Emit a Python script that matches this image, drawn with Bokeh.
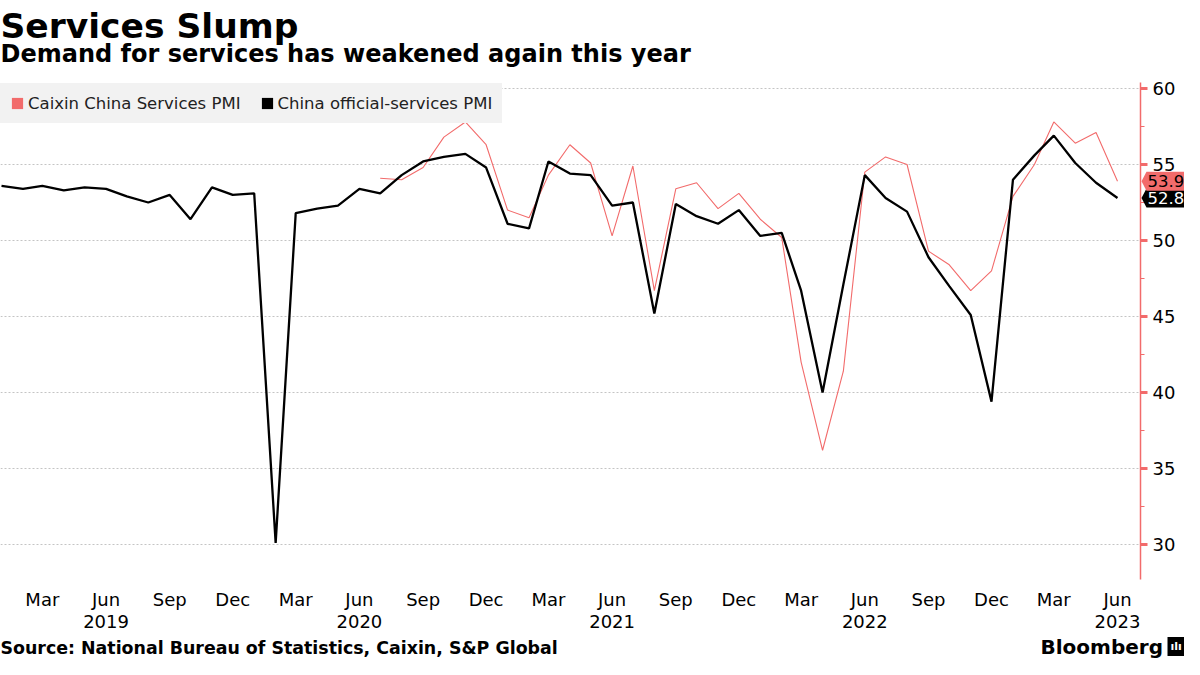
import pandas as pd
from bokeh.plotting import figure
from bokeh.models import (Range1d, DatetimeAxis, FixedTicker, SingleIntervalTicker,
                          DatetimeTickFormatter, Legend, LegendItem, Label,
                          PolyAnnotation, BoxAnnotation)
from bokeh.embed import file_html
from bokeh.resources import INLINE

# ---------------- data ----------------
official_start = "2019-01-01"
official_pmi = [
    53.6, 53.4, 53.6, 53.3, 53.5, 53.4, 52.9, 52.5, 53.0, 51.4, 53.5, 53.0,   # 2019
    53.1, 30.1, 51.8, 52.1, 52.3, 53.4, 53.1, 54.3, 55.2, 55.5, 55.7, 54.8,   # 2020
    51.1, 50.8, 55.2, 54.4, 54.3, 52.3, 52.5, 45.2, 52.4, 51.6, 51.1, 52.0,   # 2021
    50.3, 50.5, 46.7, 40.0, 47.1, 54.3, 52.8, 51.9, 48.9, 47.0, 45.1, 39.4,   # 2022
    54.0, 55.6, 56.9, 55.1, 53.8, 52.8,                                       # 2023
]
caixin_start = "2020-07-01"
caixin_pmi = [
    54.1, 54.0, 54.8, 56.8, 57.8, 56.3,                                       # 2020 H2
    52.0, 51.5, 54.3, 56.3, 55.1, 50.3, 54.9, 46.7, 53.4, 53.8, 52.1, 53.1,   # 2021
    51.4, 50.2, 42.0, 36.2, 41.4, 54.5, 55.5, 55.0, 49.3, 48.4, 46.7, 48.0,   # 2022
    52.9, 55.0, 57.8, 56.4, 57.1, 53.9,                                       # 2023
]
quarter_ticks = ["2019-03-01", "2019-06-01", "2019-09-01", "2019-12-01",
                 "2020-03-01", "2020-06-01", "2020-09-01", "2020-12-01",
                 "2021-03-01", "2021-06-01", "2021-09-01", "2021-12-01",
                 "2022-03-01", "2022-06-01", "2022-09-01", "2022-12-01",
                 "2023-03-01", "2023-06-01"]
year_ticks = ["2019-06-01", "2020-06-01", "2021-06-01", "2022-06-01", "2023-06-01"]

caixin_name = "Caixin China Services PMI"
official_name = "China official-services PMI"
title_text = "Services Slump"
subtitle_text = "Demand for services has weakened again this year"
source_text = "Source: National Bureau of Statistics, Caixin, S&P Global"
brand_text = "Bloomberg"

# ---------------- layout constants (canvas pixels) ----------------
RED = "#f26b6b"
FONT = "DejaVu Sans"
W, H = 1184, 659
AXIS_PX = 1140            # x of the value axis
TAG_W = W - AXIS_PX       # room right of the axis
PX_PER_UNIT = 15.2
Y60_PX = 88               # canvas y of the 60 gridline
PLOT_TOP_PX, PLOT_BOTTOM_PX = 82, 579
LABEL_SHIFT = 8           # baseline correction for screen-unit labels


def to_ms(d):
    return pd.Timestamp(d).value / 1e6


official_dates = pd.date_range(official_start, periods=len(official_pmi), freq="MS")
caixin_dates = pd.date_range(caixin_start, periods=len(caixin_pmi), freq="MS")

first_ms = to_ms(official_dates[0])
last_ms = to_ms(official_dates[-1])
ms_per_px = (last_ms - first_ms) / (AXIS_PX - 1 - 23)
x_start = first_ms - 1 * ms_per_px
axis_ms = last_ms + 23 * ms_per_px
x_end = axis_ms + TAG_W * ms_per_px


def px_to_val(py):
    return 60 - (py - Y60_PX) / PX_PER_UNIT


y_top, y_bot = px_to_val(0), px_to_val(H)
y_lo, y_hi = px_to_val(PLOT_BOTTOM_PX), px_to_val(PLOT_TOP_PX)
units_per_px = 1 / PX_PER_UNIT

p = figure(width=W, height=H, x_axis_type="datetime", y_axis_location="right",
           x_range=Range1d(x_start, x_end), y_range=Range1d(y_bot, y_top),
           output_backend="svg", toolbar_location=None, title=None,
           min_border_left=0, min_border_right=0,
           min_border_top=0, min_border_bottom=0)
p.outline_line_color = None
p.background_fill_color = "white"
p.border_fill_color = "white"

# hide grid right of the axis
p.add_layout(BoxAnnotation(left=axis_ms, fill_color="white", fill_alpha=1.0,
                           line_color=None, level="underlay"))

# lines
p.line(caixin_dates, caixin_pmi, line_color=RED, line_width=1.1)
p.line(official_dates, official_pmi, line_color="black", line_width=2.3)

# legend proxies (no visible marks in the plot)
nan = float("nan")
r_c = p.quad(left=[nan], right=[nan], top=[nan], bottom=[nan], fill_color=RED, line_color=None)
r_o = p.quad(left=[nan], right=[nan], top=[nan], bottom=[nan], fill_color="black", line_color=None)
legend = Legend(items=[LegendItem(label=caixin_name, renderers=[r_c]),
                       LegendItem(label=official_name, renderers=[r_o])],
                location=(0, H - 123), orientation="horizontal",
                background_fill_color="#f2f2f2", background_fill_alpha=1.0,
                border_line_color="#f2f2f2", border_line_width=1, margin=0, padding=9,
                glyph_width=14, glyph_height=14, label_height=20, label_standoff=4, spacing=19,
                label_text_font=FONT, label_text_font_size="16.5px",
                label_text_color="#222222")
p.add_layout(legend)

# value axis (right side, pinned at the axis position)
yt = SingleIntervalTicker(interval=5, num_minor_ticks=2)
ya = p.yaxis[0]
ya.fixed_location = axis_ms
ya.bounds = (y_lo, y_hi)
ya.ticker = yt
ya.axis_line_color = RED
ya.axis_line_width = 1.5
ya.major_tick_line_color = RED
ya.major_tick_line_width = 3
ya.major_tick_out = 7
ya.major_tick_in = 0
ya.minor_tick_line_color = RED
ya.minor_tick_out = 4
ya.minor_tick_in = 0
ya.major_label_text_font = FONT
ya.major_label_text_font_size = "18px"
ya.major_label_text_color = "black"
ya.major_label_standoff = 5
p.ygrid.ticker = yt
p.ygrid.bounds = (y_lo, y_hi)
p.ygrid.grid_line_color = "#c4c4c4"
p.ygrid.grid_line_dash = "2 2"
p.xgrid.grid_line_color = None

# x axes: months, then years (pinned at the bottom of the value range)
fields = ["microseconds", "milliseconds", "seconds", "minsec", "minutes",
          "hourmin", "hours", "days", "months", "years"]
xa = p.xaxis[0]
xa.fixed_location = y_lo
xa.ticker = FixedTicker(ticks=[to_ms(d) for d in quarter_ticks])
xa.formatter = DatetimeTickFormatter(**{f: "%b" for f in fields})
xa.axis_line_color = None
xa.major_tick_line_color = None
xa.minor_tick_line_color = None
xa.major_tick_out = 0
xa.minor_tick_out = 0
xa.major_label_text_font = FONT
xa.major_label_text_font_size = "18px"
xa.major_label_text_color = "black"
xa.major_label_standoff = 9

xa2 = DatetimeAxis(ticker=FixedTicker(ticks=[to_ms(d) for d in year_ticks]),
                   formatter=DatetimeTickFormatter(**{f: "%Y" for f in fields}),
                   fixed_location=y_lo,
                   axis_line_color=None, major_tick_line_color=None,
                   minor_tick_line_color=None, major_tick_out=0, minor_tick_out=0,
                   major_label_text_font=FONT,
                   major_label_text_font_size="18px", major_label_text_color="black",
                   major_label_standoff=35)
p.add_layout(xa2, "below")


# last-value tags on the value axis
def add_tag(val, fill, txt_color):
    h = 9.5 * units_per_px
    x_tip = axis_ms + 1 * ms_per_px
    x_box = axis_ms + 6 * ms_per_px
    p.add_layout(PolyAnnotation(xs=[x_tip, x_box, x_end, x_end, x_box],
                                ys=[val, val + h, val + h, val - h, val - h],
                                fill_color=fill, fill_alpha=1.0, line_color=None))
    p.add_layout(Label(x=axis_ms + 7 * ms_per_px, y=val, text=f"{val:.1f}",
                       text_font=FONT, text_font_size="16.5px", text_color=txt_color,
                       text_baseline="middle", text_align="left"))


add_tag(official_pmi[-1], "black", "white")
add_tag(caixin_pmi[-1], RED, "black")


# header and footer texts (screen units, measured up from the canvas bottom)
def text_at(x, baseline_px, text, size):
    p.add_layout(Label(x=x, y=H - (baseline_px - LABEL_SHIFT), x_units="screen",
                       y_units="screen", text=text, text_font=FONT, text_font_size=size,
                       text_font_style="bold", text_color="black",
                       text_baseline="alphabetic"))


text_at(0, 33, title_text, "34.5px")
text_at(0, 61, subtitle_text, "24px")
text_at(0, 655, source_text, "17.4px")
text_at(1040, 654, brand_text, "20px")
p.add_layout(Label(x=1167, y=H - (654 - LABEL_SHIFT), x_units="screen", y_units="screen",
                   text="ılı", text_font=FONT, text_font_size="11px", text_font_style="bold",
                   text_color="white", background_fill_color="black",
                   text_baseline="alphabetic", padding=3))

open("out.html", "w").write(file_html(p, INLINE))
